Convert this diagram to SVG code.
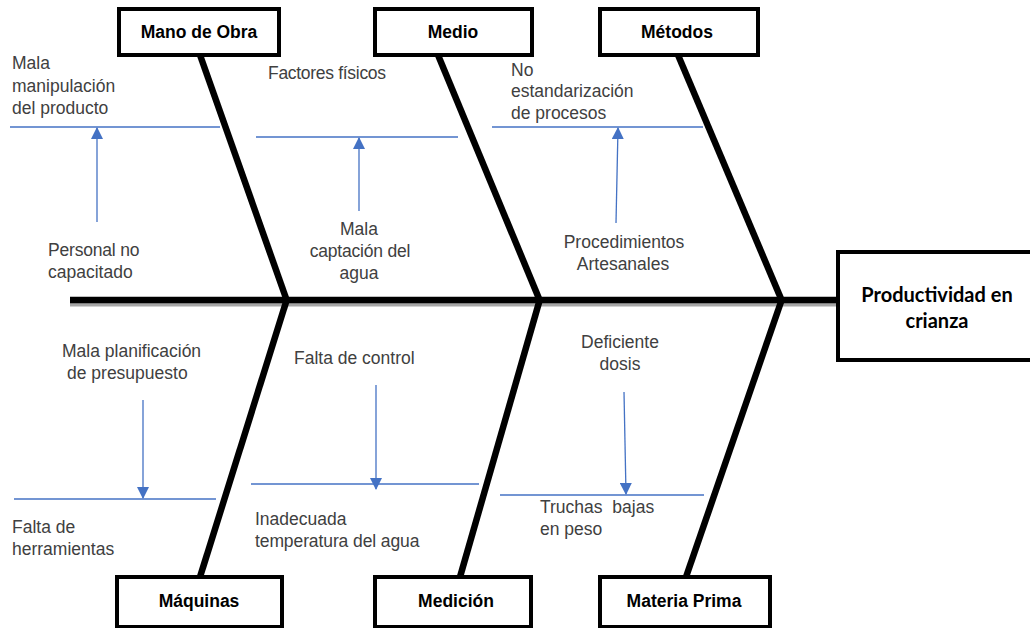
<svg xmlns="http://www.w3.org/2000/svg" width="1030" height="628" viewBox="0 0 1030 628">
  <style>
    .box { fill: #ffffff; stroke: #000000; stroke-width: 4; }
    .box-label { font-family: "Liberation Sans", Arial, sans-serif; font-size: 17.5px; font-weight: bold; fill: #000000; text-anchor: middle; }
    .effect-label { font-family: Lato, "Liberation Sans", sans-serif; font-size: 20px; font-weight: bold; fill: #000000; text-anchor: middle; }
    .bone { stroke: #000000; stroke-width: 6.5; fill: none; stroke-linecap: butt; }
    .sub { stroke: #4472c4; stroke-width: 1.6; fill: none; }
    .cause { stroke: #4472c4; stroke-width: 1.3; fill: none; }
    .note { font-family: "Liberation Sans", Arial, sans-serif; font-size: 17.5px; fill: #404040; }
    .mid { text-anchor: middle; }
  </style>
  <defs>
    <marker id="tip-big" viewBox="0 0 12 12" refX="11" refY="6" markerWidth="13" markerHeight="12" markerUnits="userSpaceOnUse" orient="auto">
      <path d="M0,0 L12,6 L0,12 z" fill="#4472c4"/>
    </marker>
  </defs>

  <rect width="1030" height="628" fill="#ffffff"/>

  <!-- spine and main bones -->
  <g id="connectors">
    <line x1="70" y1="304" x2="836" y2="304" stroke="#a6a6a6" stroke-width="5"/>
    <line x1="70" y1="300" x2="836" y2="300" class="bone"/>
    <line x1="200" y1="55" x2="287" y2="301" class="bone"/>
    <line x1="438" y1="55" x2="540" y2="301" class="bone"/>
    <line x1="678" y1="55" x2="782" y2="301" class="bone"/>
    <line x1="287" y1="299" x2="200" y2="577" class="bone"/>
    <line x1="540" y1="299" x2="460" y2="577" class="bone"/>
    <line x1="782" y1="299" x2="686" y2="577" class="bone"/>

    <!-- sub-cause lines -->
    <line x1="10" y1="127" x2="220" y2="127" class="sub"/>
    <line x1="256" y1="137" x2="458" y2="137" class="sub"/>
    <line x1="492" y1="127" x2="703" y2="127" class="sub"/>
    <line x1="14" y1="499" x2="216" y2="499" class="sub"/>
    <line x1="251" y1="484" x2="479" y2="484" class="sub"/>
    <line x1="500" y1="495" x2="704" y2="495" class="sub"/>

    <!-- cause arrows -->
    <line x1="97" y1="222" x2="97" y2="128" class="cause" marker-end="url(#tip-big)"/>
    <line x1="359" y1="211" x2="359" y2="138" class="cause" marker-end="url(#tip-big)"/>
    <line x1="616" y1="223" x2="618" y2="128" class="cause" marker-end="url(#tip-big)"/>
    <line x1="143" y1="400" x2="143" y2="498" class="cause" marker-end="url(#tip-big)"/>
    <line x1="376" y1="385" x2="376" y2="489" class="cause" marker-end="url(#tip-big)"/>
    <line x1="624" y1="392" x2="626" y2="494" class="cause" marker-end="url(#tip-big)"/>
  </g>

  <!-- category boxes -->
  <g id="mano-de-obra">
    <rect x="119" y="9" width="160" height="46" class="box"/>
    <text x="199" y="38" class="box-label">Mano de Obra</text>
  </g>
  <g id="medio">
    <rect x="375" y="9" width="157" height="46" class="box"/>
    <text x="453" y="38" class="box-label">Medio</text>
  </g>
  <g id="metodos">
    <rect x="600" y="9" width="158" height="46" class="box"/>
    <text x="677" y="38" class="box-label">Métodos</text>
  </g>
  <g id="maquinas">
    <rect x="117" y="577" width="165" height="50" class="box"/>
    <text x="199" y="607" class="box-label">Máquinas</text>
  </g>
  <g id="medicion">
    <rect x="375" y="577" width="156" height="50" class="box"/>
    <text x="456" y="607" class="box-label">Medición</text>
  </g>
  <g id="materia-prima">
    <rect x="600" y="577" width="170" height="50" class="box"/>
    <text x="684" y="607" class="box-label">Materia Prima</text>
  </g>

  <!-- effect -->
  <g id="productividad">
    <rect x="838" y="252" width="194" height="108" class="box"/>
    <text x="937" y="302" class="effect-label">Productividad en</text>
    <text x="937" y="328" class="effect-label">crianza</text>
  </g>

  <!-- cause labels -->
  <g id="mala-manipulacion">
    <text class="note" x="12" y="69">Mala</text>
    <text class="note" x="12" y="92">manipulación</text>
    <text class="note" x="12" y="114">del producto</text>
  </g>
  <g id="personal-no-capacitado">
    <text class="note" x="48" y="256" letter-spacing="-0.2">Personal no</text>
    <text class="note" x="48" y="278">capacitado</text>
  </g>
  <g id="factores-fisicos">
    <text class="note" x="268" y="79" letter-spacing="-0.3">Factores físicos</text>
  </g>
  <g id="mala-captacion">
    <text class="note mid" x="359" y="235">Mala</text>
    <text class="note mid" x="360" y="257" letter-spacing="-0.2">captación del</text>
    <text class="note mid" x="359" y="279">agua</text>
  </g>
  <g id="no-estandarizacion">
    <text class="note" x="511" y="76">No</text>
    <text class="note" x="511" y="97">estandarización</text>
    <text class="note" x="511" y="119">de procesos</text>
  </g>
  <g id="procedimientos-artesanales">
    <text class="note mid" x="624" y="248">Procedimientos</text>
    <text class="note mid" x="623" y="270">Artesanales</text>
  </g>
  <g id="mala-planificacion">
    <text class="note" x="62" y="357">Mala planificación</text>
    <text class="note" x="67" y="379">de presupuesto</text>
  </g>
  <g id="falta-de-herramientas">
    <text class="note" x="12" y="533">Falta de</text>
    <text class="note" x="12" y="555">herramientas</text>
  </g>
  <g id="falta-de-control">
    <text class="note" x="294" y="364">Falta de control</text>
  </g>
  <g id="inadecuada-temperatura">
    <text class="note" x="255" y="525">Inadecuada</text>
    <text class="note" x="255" y="547" letter-spacing="-0.1">temperatura del agua</text>
  </g>
  <g id="deficiente-dosis">
    <text class="note mid" x="620" y="348">Deficiente</text>
    <text class="note mid" x="620" y="370">dosis</text>
  </g>
  <g id="truchas-bajas">
    <text class="note" x="540" y="513" xml:space="preserve">Truchas  bajas</text>
    <text class="note" x="540" y="535">en peso</text>
  </g>
</svg>
